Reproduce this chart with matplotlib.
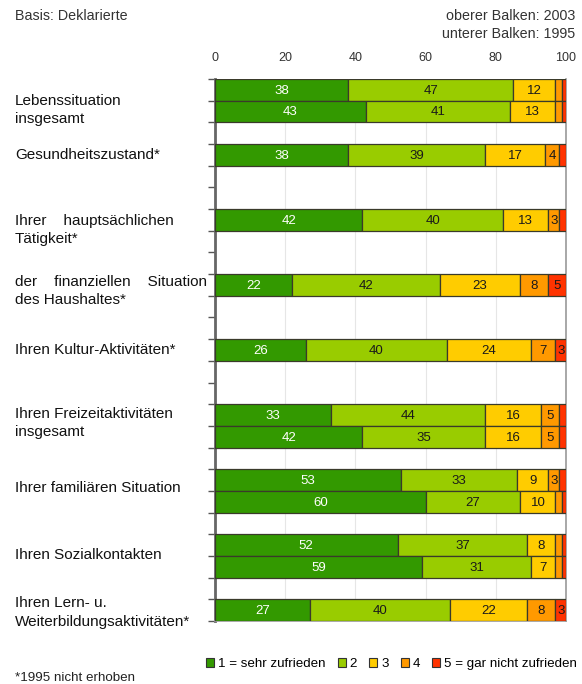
import numpy as np
import matplotlib
matplotlib.use("Agg")
import matplotlib.pyplot as plt
from matplotlib.patches import Patch
from matplotlib.transforms import blended_transform_factory

plt.rcParams['font.family'] = ['Liberation Sans', 'DejaVu Sans']

# zufriedenheit mit ... (anteile in %, oberer balken 2003, unterer 1995)
categories = [
    "Lebenssituation\ninsgesamt",
    "Gesundheitszustand*",
    "Ihrer    hauptsächlichen\nTätigkeit*",
    "der    finanziellen    Situation\ndes Haushaltes*",
    "Ihren Kultur-Aktivitäten*",
    "Ihren Freizeitaktivitäten\ninsgesamt",
    "Ihrer familiären Situation",
    "Ihren Sozialkontakten",
    "Ihren Lern- u.\nWeiterbildungsaktivitäten*",
]
levels = ["1 = sehr zufrieden", "2", "3", "4", "5 = gar nicht zufrieden"]
colors = ["#339900", "#99cc00", "#ffcc00", "#ff9900", "#ff3300"]

v2003 = [
    [38, 47, 12, 2, 1],
    [38, 39, 17, 4, 2],
    [42, 40, 13, 3, 2],
    [22, 42, 23, 8, 5],
    [26, 40, 24, 7, 3],
    [33, 44, 16, 5, 2],
    [53, 33, 9, 3, 2],
    [52, 37, 8, 2, 1],
    [27, 40, 22, 8, 3],
]
v1995 = [
    [43, 41, 13, 2, 1],
    None,
    None,
    None,
    None,
    [42, 35, 16, 5, 2],
    [60, 27, 10, 2, 1],
    [59, 31, 7, 2, 1],
    None,
]
xticks = [0, 20, 40, 60, 80, 100]

# vertical offset of the category text inside its group (in bar rows)
label_off = [1.43, 0.5, 0.97, 0.78, 0.5, 0.87, 0.87, 0.96, 0.6]

W, H = 582, 684
fig = plt.figure(figsize=(W / 100, H / 100), dpi=100)
ax = fig.add_axes([215 / W, 1 - 621 / H, (566 - 215) / W, (621 - 79) / H])

nslots = 3 * len(categories) - 2


def draw_row(vals, y):
    left = 0
    for k, v in enumerate(vals):
        ax.barh(y, v, left=left, height=1.0, color=colors[k],
                edgecolor="#3a3a2a", linewidth=0.9, zorder=3)
        if v >= 3:
            tc = "white" if k == 0 else "#1a1a1a"
            ax.text(left + v / 2, y + 0.04, str(v), ha="center", va="center",
                    fontsize=9.5, color=tc, zorder=4)
        left += v


lab_tr = blended_transform_factory(fig.transFigure, ax.transData)
for i, cat in enumerate(categories):
    draw_row(v2003[i], 3 * i + 0.5)
    if v1995[i] is not None:
        draw_row(v1995[i], 3 * i + 1.5)
    ax.text(15 / W, 3 * i + label_off[i], cat, transform=lab_tr,
            ha="left", va="center", fontsize=11, color="#111111", linespacing=1.4)

ax.set_xlim(0, 100)
ax.set_ylim(nslots, 0)

ax.xaxis.tick_top()
ax.set_xticks(xticks)
ax.tick_params(axis="x", length=0, pad=11, labelsize=9, labelcolor="#333333")
ax.set_yticks(np.arange(0, nslots + 1))
ax.set_yticklabels([])
ax.tick_params(axis="y", length=5, width=1, color="#555555", direction="out")

ax.grid(axis="x", color="#e6e6e6", linewidth=0.8, zorder=0)
ax.spines["top"].set_visible(False)
ax.spines["left"].set_color("#666666")
ax.spines["left"].set_linewidth(2)
ax.spines["right"].set_color("#999999")
ax.spines["right"].set_linewidth(1.2)
ax.spines["bottom"].set_color("#999999")
ax.spines["bottom"].set_linewidth(1.2)

fig.text(15 / W, 1 - 16 / H, "Basis: Deklarierte", fontsize=10.3, color="#333333",
         ha="left", va="center")
fig.text(575 / W, 1 - 16 / H, "oberer Balken: 2003", fontsize=10.3, color="#333333",
         ha="right", va="center")
fig.text(575 / W, 1 - 34 / H, "unterer Balken: 1995", fontsize=10.3, color="#333333",
         ha="right", va="center")
fig.text(15 / W, 1 - 678 / H, "*1995 nicht erhoben", fontsize=9.6, color="#222222",
         ha="left", va="center")

handles = [Patch(facecolor=c, edgecolor="#333333", linewidth=0.8) for c in colors]
fig.legend(handles, levels, loc="center right", bbox_to_anchor=(577 / W, 1 - 664 / H),
           ncol=5, frameon=False, fontsize=9.6, handlelength=0.6, handleheight=0.6,
           handletextpad=0.3, columnspacing=0.9, borderpad=0, borderaxespad=0)

fig.savefig("out.png", dpi=100, facecolor="white")
